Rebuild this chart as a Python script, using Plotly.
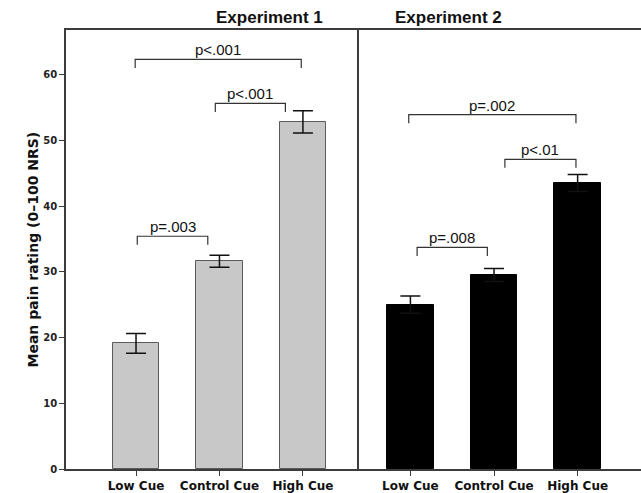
import plotly.graph_objects as go
from plotly.subplots import make_subplots

categories = ["Low Cue", "Control Cue", "High Cue"]
panel_titles = ["Experiment 1", "Experiment 2"]
exp1_means = [19.1, 31.6, 52.8]
exp1_err = [1.5, 0.9, 1.7]
exp2_means = [25.0, 29.5, 43.5]
exp2_err = [1.3, 1.0, 1.3]
y_ticks = [0, 10, 20, 30, 40, 50, 60]
y_title = "Mean pain rating (0\u2013100 NRS)"

# significance brackets: (x_start, x_end, y_line, label)
exp1_brackets = [(-0.01, 1.98, 62.3, "p<.001"), (0.95, 1.79, 55.6, "p<.001"), (0.015, 0.86, 35.4, "p=.003")]
exp2_brackets = [(-0.02, 1.98, 53.9, "p=.002"), (1.13, 1.98, 47.1, "p<.01"), (0.08, 0.92, 33.7, "p=.008")]

W, H = 641, 493
L, R, T, B = 66, 0, 30, 24
plot_w = W - L - R
split = (357 - L) / plot_w

fig = make_subplots(rows=1, cols=2, shared_yaxes=False, horizontal_spacing=0)

axis_col = "#3c3c3c"
fig.add_trace(go.Bar(x=categories, y=exp1_means, width=0.56,
                     marker=dict(color="#c8c8c8", line=dict(color="#5a5a5a", width=1)),
                     error_y=dict(type="data", array=exp1_err, color="#111", thickness=1.5, width=10),
                     showlegend=False), row=1, col=1)
fig.add_trace(go.Bar(x=categories, y=exp2_means, width=0.56,
                     marker=dict(color="#000000", line=dict(color="#000000", width=1)),
                     error_y=dict(type="data", array=exp2_err, color="#111", thickness=1.5, width=10),
                     showlegend=False), row=1, col=2)

tickfont = dict(family="DejaVu Sans", size=12, color="#111", weight="bold")
fig.update_layout(
    width=W, height=H, margin=dict(l=L, r=R, t=T, b=B), autosize=False,
    paper_bgcolor="white", plot_bgcolor="white",
    xaxis=dict(domain=[0, split], range=[-0.839, 2.648], showline=True, mirror=True,
               linecolor=axis_col, linewidth=1.5, ticks="outside", ticklen=5,
               tickcolor=axis_col, tickwidth=1, tickfont=tickfont, showgrid=False),
    xaxis2=dict(domain=[split, 1], range=[-0.639, 2.758], showline=True, mirror=True,
                linecolor=axis_col, linewidth=1.5, ticks="outside", ticklen=5,
                tickcolor=axis_col, tickwidth=1, tickfont=tickfont, showgrid=False),
    yaxis=dict(range=[0, 66.77], tickvals=y_ticks, showline=True, mirror=True,
               linecolor=axis_col, linewidth=1.5, ticks="outside", ticklen=5,
               tickcolor=axis_col, tickwidth=1, showgrid=False, zeroline=False,
               tickfont=dict(family="DejaVu Sans", size=10, color="#222", weight="bold")),
    yaxis2=dict(range=[0, 66.77], showticklabels=False, ticks="", showline=False,
                showgrid=False, zeroline=False),
    bargap=0,
)

def add_brackets(brackets, xref):
    for x0, x1, yl, label in brackets:
        drop = 1.3
        fig.add_shape(type="path", xref=xref, yref="y",
                      path=f"M {x0},{yl - drop} L {x0},{yl} L {x1},{yl} L {x1},{yl - drop}",
                      line=dict(color="#333", width=1.2))
        fig.add_annotation(x=(x0 + x1) / 2, y=yl, xref=xref, yref="y", text=label,
                           showarrow=False, yanchor="bottom", yshift=-1,
                           font=dict(family="Liberation Sans", size=15, color="#111"))

add_brackets(exp1_brackets, "x")
add_brackets(exp2_brackets, "x2")

title_px = [214, 504]
for t, px in zip(panel_titles, title_px):
    fig.add_annotation(x=(px - L) / plot_w, y=1, xref="paper", yref="paper", text=t,
                       showarrow=False, yanchor="middle", yshift=13,
                       font=dict(family="Liberation Sans", size=17, color="#111", weight="bold"))

fig.add_annotation(x=0, y=0.5, xref="paper", yref="paper", text=y_title, textangle=-90,
                   showarrow=False, xanchor="center", yanchor="middle", xshift=-34,
                   font=dict(family="DejaVu Sans", size=14, color="#111", weight="bold"))

fig.write_html("out.html", config={"displayModeBar": False},
               post_script="document.body.style.margin='0';document.body.style.overflow='hidden';")
